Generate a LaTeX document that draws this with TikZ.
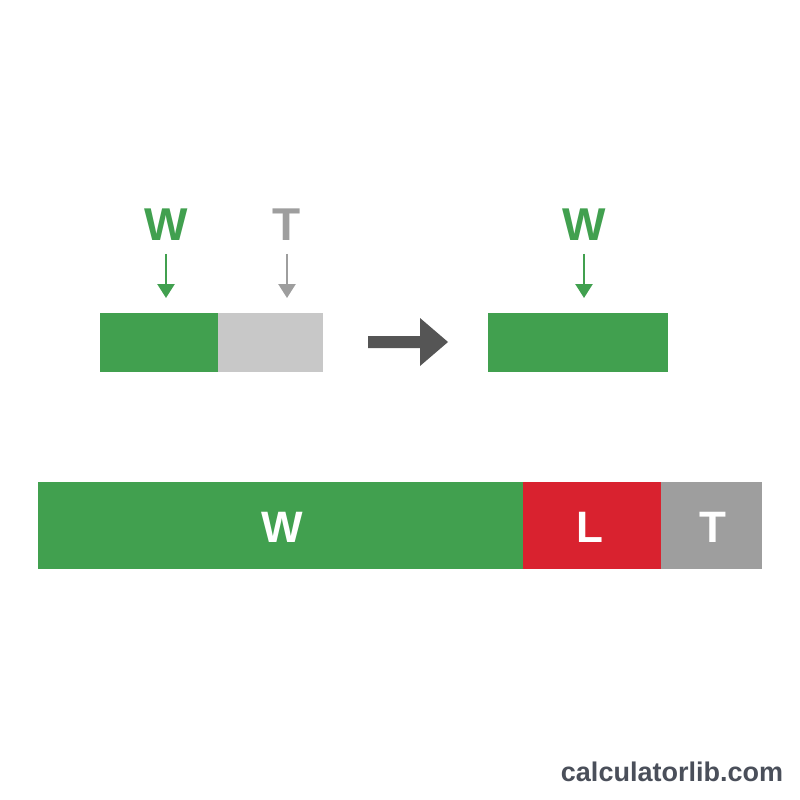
\documentclass[tikz,border=0pt]{standalone}
\usepackage{fontspec}
\setmainfont{Liberation Sans}
\usetikzlibrary{arrows.meta}
\definecolor{wgreen}{HTML}{41A04F}
\definecolor{tlight}{HTML}{C8C8C8}
\definecolor{tgray}{HTML}{9E9E9E}
\definecolor{lred}{HTML}{D9222F}
\definecolor{darrow}{HTML}{555555}
\definecolor{wmark}{HTML}{4A4F5A}
\tikzset{
  bar/.style={inner sep=0pt, outer sep=0pt, anchor=north west},
  lbl/.style={inner sep=0pt, outer sep=0pt, font=\fontsize{46}{46}\bfseries, text depth=0pt},
  inlbl/.style={inner sep=0pt, outer sep=0pt, font=\fontsize{44}{44}\bfseries, text=white, text depth=0pt},
  ptr/.style={line width=2.5pt, -{Triangle[width=17pt,length=14pt]}, shorten <=13pt, shorten >=15pt},
}
\begin{document}
\begin{tikzpicture}[x=1pt,y=-1pt]
\useasboundingbox[fill=white] (0,0) rectangle (800,800);
% top-left bar
\node[bar, fill=wgreen, minimum width=118pt, minimum height=59pt] (g1) at (100,313) {};
\node[bar, fill=tlight, minimum width=105pt, minimum height=59pt] (t1) at (218,313) {};
\node[lbl, text=wgreen] (lw1) at (166,225) {W};
\node[lbl, text=tgray] (lt1) at (287,225) {T};
\draw[ptr, wgreen] (lw1.south) -- (lw1.south |- g1.north);
\draw[ptr, tgray] (lt1.south) -- (lt1.south |- t1.north);
% big arrow
\fill[darrow] (368,336) -- (420,336) -- (420,318) -- (448,342) -- (420,366) -- (420,348) -- (368,348) -- cycle;
% top-right bar
\node[bar, fill=wgreen, minimum width=180pt, minimum height=59pt] (g2) at (488,313) {};
\node[lbl, text=wgreen] (lw2) at (584,225) {W};
\draw[ptr, wgreen] (lw2.south) -- (lw2.south |- g2.north);
% bottom bar
\node[bar, fill=wgreen, minimum width=485pt, minimum height=87pt] (bw) at (38,482) {};
\node[bar, fill=lred, minimum width=138pt, minimum height=87pt] (bl) at (523,482) {};
\node[bar, fill=tgray, minimum width=101pt, minimum height=87pt] (bt) at (661,482) {};
\node[inlbl] (lbw) at (282,527) {W};
\node[inlbl] (lbl) at (590,527) {L};
\node[inlbl] (lbt) at (713,527) {T};
% watermark
\node[inner sep=0pt, font=\fontsize{27}{27}\bfseries, text=wmark] (wm) at (672,772) {calculatorlib.com};
\end{tikzpicture}
\end{document}
